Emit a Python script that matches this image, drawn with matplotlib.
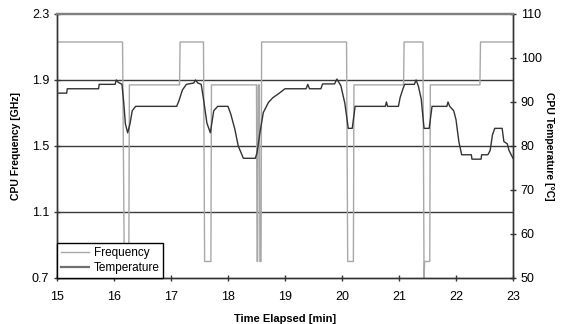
import matplotlib
matplotlib.use("Agg")
import matplotlib.pyplot as plt
from matplotlib.lines import Line2D

plt.rcParams['font.family'] = ['Liberation Sans', 'DejaVu Sans']

# frequency breakpoints (min, GHz)
freq_t = [15.00, 16.15, 16.18, 16.26, 16.27, 17.15, 17.16, 17.57, 17.59, 17.70,
          17.71, 18.50, 18.51, 18.52, 18.53, 18.55, 18.56, 18.58, 18.59, 20.08,
          20.10, 20.20, 20.21, 21.08, 21.09, 21.42, 21.44, 21.45, 21.46, 21.54,
          21.55, 22.42, 22.43, 23.00]
freq_v = [2.13, 2.13, 0.80, 0.80, 1.87, 1.87, 2.13, 2.13, 0.80, 0.80,
          1.87, 1.87, 0.80, 0.80, 1.87, 1.87, 0.80, 0.80, 2.13, 2.13,
          0.80, 0.80, 1.87, 1.87, 2.13, 2.13, 0.70, 0.80, 0.80, 0.80,
          1.87, 1.87, 2.13, 2.13]

# temperature breakpoints (min, deg C)
temp_t = [15.00, 15.17, 15.18, 15.73, 15.74, 16.02, 16.04, 16.07, 16.14, 16.17,
          16.20, 16.24, 16.28, 16.32, 16.38, 17.10, 17.14, 17.20, 17.27, 17.40,
          17.43, 17.47, 17.53, 17.57, 17.63, 17.69, 17.75, 17.82, 18.00, 18.05,
          18.12, 18.18, 18.27, 18.48, 18.51, 18.56, 18.62, 18.71, 18.79, 18.88,
          19.00, 19.37, 19.40, 19.43, 19.63, 19.66, 19.87, 19.91, 19.98, 20.05,
          20.11, 20.18, 20.23, 20.76, 20.78, 20.80, 20.99, 21.02, 21.07, 21.10,
          21.27, 21.30, 21.34, 21.39, 21.44, 21.53, 21.58, 21.84, 21.86, 21.89,
          21.96, 22.00, 22.05, 22.10, 22.27, 22.28, 22.44, 22.45, 22.56, 22.60,
          22.64, 22.68, 22.81, 22.84, 22.90, 22.93, 23.00]
temp_v = [92.0, 92.0, 93.0, 93.0, 94.0, 94.0, 95.0, 94.5, 94.0, 90.0,
          85.0, 83.0, 85.0, 88.0, 89.0, 89.0, 90.3, 92.7, 94.0, 94.3,
          95.0, 94.3, 94.0, 90.7, 85.2, 83.0, 88.0, 89.0, 89.0, 87.2,
          83.8, 80.0, 77.2, 77.2, 78.5, 83.0, 87.6, 89.9, 91.0, 91.8,
          93.0, 93.0, 94.0, 93.0, 93.0, 94.1, 94.1, 95.2, 93.7, 89.7,
          84.0, 84.0, 89.0, 89.0, 90.0, 89.0, 89.0, 91.0, 93.0, 94.0,
          94.0, 95.0, 93.6, 90.7, 84.0, 84.0, 89.0, 89.0, 90.0, 89.0,
          88.0, 86.0, 81.0, 78.0, 78.0, 77.0, 77.0, 78.0, 78.0, 79.0,
          82.5, 84.0, 84.0, 81.0, 80.5, 79.0, 77.2]

freq_ticks = [0.7, 1.1, 1.5, 1.9, 2.3]
temp_ticks = [50, 60, 70, 80, 90, 100, 110]
time_ticks = [15, 16, 17, 18, 19, 20, 21, 22, 23]

fig = plt.figure(figsize=(5.61, 3.24), dpi=100)
ax = fig.add_axes([0.1016, 0.142, 0.8128, 0.815])

for g in freq_ticks[1:4]:
    ax.axhline(g, color='#3a3a3a', lw=1.0, zorder=1)

ax.plot(freq_t, freq_v, color='#a8a8a8', lw=1.0, zorder=2)
ax.set_xlim(15, 23)
ax.set_ylim(0.7, 2.3)
ax.set_xticks(time_ticks)
ax.set_yticks(freq_ticks)
ax.set_yticklabels([f"{v:.1f}" for v in freq_ticks])
ax.tick_params(direction='inout', length=5, width=1, labelsize=9,
               color='#333333', pad=3)
ax.tick_params(axis='x', pad=7)
ax.set_xlabel('Time Elapsed [min]', fontsize=8, fontweight='bold', labelpad=8)
ax.set_ylabel('CPU Frequency [GHz]', fontsize=7.5, fontweight='bold', labelpad=8)

ax2 = ax.twinx()
ax2.plot(temp_t, temp_v, color='#333333', lw=1.0)
ax2.set_ylim(50, 110)
ax2.set_yticks(temp_ticks)
ax2.tick_params(direction='inout', length=5, width=1, labelsize=9,
                color='#333333', pad=3)
ax2.set_ylabel('CPU Temperature [°C]', fontsize=7.5, fontweight='bold',
               rotation=270, labelpad=9)

for a in (ax, ax2):
    for s in ('left', 'bottom', 'right'):
        a.spines[s].set_color('#333333')
        a.spines[s].set_linewidth(1.0)
    a.spines['top'].set_color('#808080')
    a.spines['top'].set_linewidth(1.6)

handles = [Line2D([], [], color='#a8a8a8', lw=1.0),
           Line2D([], [], color='#707070', lw=1.6)]
leg = ax2.legend(handles, ['Frequency', 'Temperature'], loc='lower left',
                 fontsize=8.5, frameon=True, fancybox=False, framealpha=1,
                 edgecolor='black', borderaxespad=0, handlelength=2.4,
                 borderpad=0.3, labelspacing=0.3, handletextpad=0.4)
leg.get_frame().set_linewidth(1.0)

fig.savefig('out.png', dpi=100)
